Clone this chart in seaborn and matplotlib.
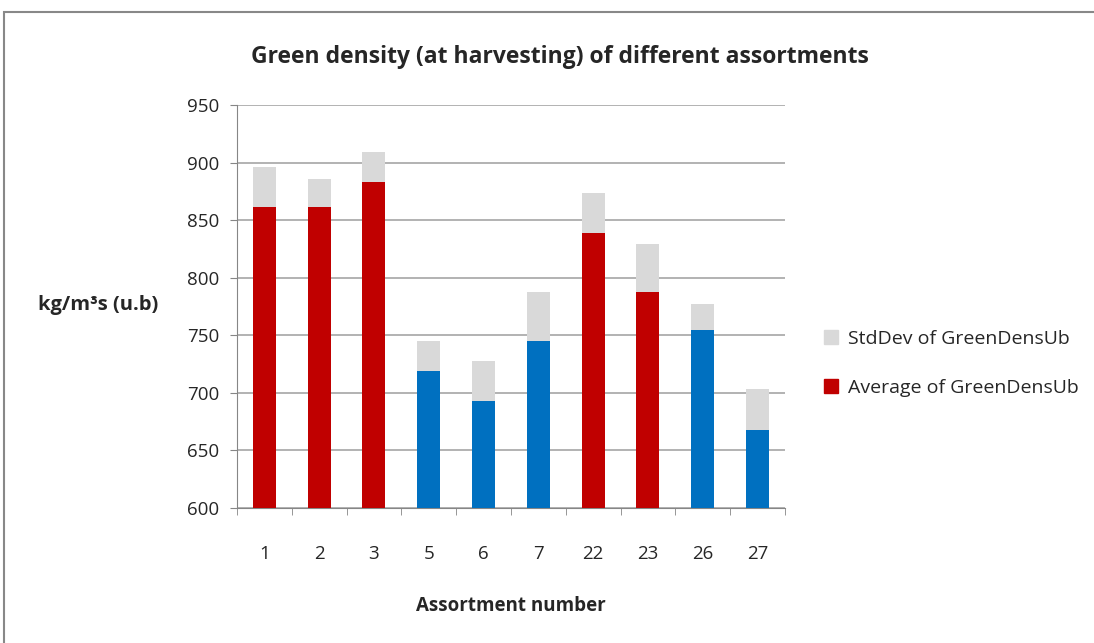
import pandas as pd
import matplotlib.pyplot as plt
import seaborn as sns
from matplotlib.patches import Patch, Rectangle

assortments = ['1', '2', '3', '5', '6', '7', '22', '23', '26', '27']
avg_density = [861, 861, 883, 719, 693, 745, 839, 788, 755, 668]
std_density = [35, 25, 26, 26, 35, 43, 35, 41, 22, 35]
highlight = [False, False, False, True, True, True, False, False, True, True]

red = '#C00000'
blue = '#0070C0'
grey = '#D9D9D9'

data = pd.DataFrame({'Assortment': assortments, 'Average': avg_density,
                     'StdDev': std_density, 'Blue': highlight})
data['Top'] = data['Average'] + data['StdDev']
bar_colors = [blue if b else red for b in data['Blue']]

sns.set_style('white')
plt.rcParams['font.family'] = ['Open Sans', 'DejaVu Sans']

fig = plt.figure(figsize=(10.94, 6.43), dpi=100)
ax = fig.add_axes([0.2166, 0.2100, 0.5009, 0.6267])

# grey stddev part sits on top of the average
sns.barplot(data=data, x='Assortment', y='Top', color=grey, width=0.42,
            saturation=1, linewidth=0, ax=ax, zorder=2)
sns.barplot(data=data, x='Assortment', y='Average', hue='Assortment',
            palette=bar_colors, width=0.42, saturation=1, linewidth=0,
            legend=False, ax=ax, zorder=3)

ax.set_ylim(600, 950)
ax.set_yticks(range(600, 951, 50))
ax.set_xlim(-0.5, len(assortments) - 0.5)
ax.yaxis.grid(True, color='#A6A6A6', linewidth=1.2, zorder=0)
ax.set_axisbelow(True)
for s in ['top', 'right']:
    ax.spines[s].set_visible(False)
ax.spines['left'].set_color('#868686')
ax.spines['bottom'].set_color('#868686')
ax.tick_params(axis='y', left=True, length=5, color='#868686', labelsize=13.5, pad=8)
ax.tick_params(axis='x', bottom=False, labelsize=13.5, pad=23)
ax.set_xticks([i + 0.5 for i in range(-1, len(assortments))], minor=True)
ax.tick_params(axis='x', which='minor', bottom=True, length=5, color='#868686')

ax.set_xlabel('Assortment number', fontsize=13.5, fontweight='bold', labelpad=24)
ax.set_ylabel('')
fig.text(0.090, 0.525, 'kg/m³s (u.b)', fontsize=14.5, fontweight='bold',
         ha='center', va='center')
fig.text(0.512, 0.912, 'Green density (at harvesting) of different assortments',
         fontsize=16.5, fontweight='bold', ha='center', va='center')

handles = [Patch(color=grey, label='StdDev of GreenDensUb'),
           Patch(color=red, label='Average of GreenDensUb')]
fig.legend(handles=handles, loc='center left', bbox_to_anchor=(0.737, 0.435),
           frameon=False, fontsize=14, handlelength=0.75, handleheight=0.75,
           labelspacing=1.6, handletextpad=0.5)

fig.patches.append(Rectangle((0.004, -0.01), 1.1, 0.992, transform=fig.transFigure,
                             fill=False, edgecolor='#888888', linewidth=1.5))

fig.savefig('out.png', dpi=100)
